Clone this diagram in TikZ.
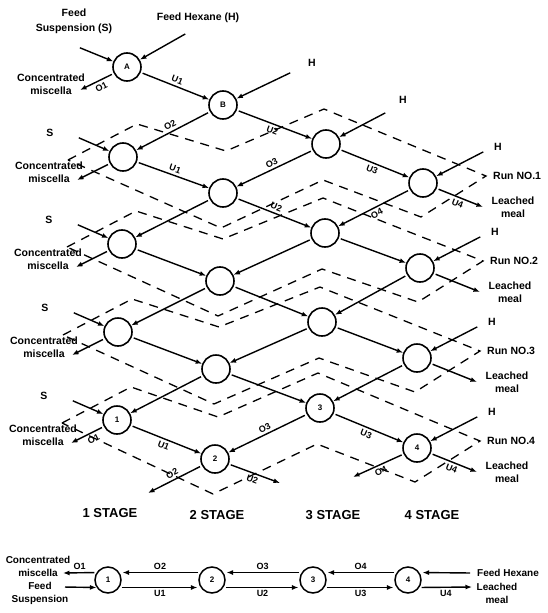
\documentclass[tikz,border=0pt]{standalone}
\usepackage{fontspec}
\setmainfont{Liberation Sans}
\usetikzlibrary{arrows.meta,calc}
\begin{document}
\begin{tikzpicture}[x=1pt,y=-1pt,
  st/.style={circle,draw,line width=1.6pt,minimum size=28pt,inner sep=0pt,font=\bfseries\fontsize{8}{8}\selectfont},
  sb/.style={circle,draw,line width=1.5pt,minimum size=26pt,inner sep=0pt,font=\bfseries\fontsize{8}{8}\selectfont},
  fl/.style={line width=1.4pt,-{Latex[length=6.5pt,width=5pt]},shorten <=2pt},
  bd/.style={line width=1.3pt,dash pattern=on 9pt off 7pt,line join=miter},
  lb/.style={font=\bfseries\fontsize{9}{9}\selectfont,sloped,inner sep=2.5pt},
  tx/.style={font=\bfseries\fontsize{10.5}{13}\selectfont,inner sep=0pt,align=center},
  sg/.style={font=\bfseries\fontsize{13}{13}\selectfont,inner sep=0pt},
  hb/.style={font=\bfseries\fontsize{10}{13}\selectfont,inner sep=0pt,align=center},
  bl/.style={font=\bfseries\fontsize{9}{9}\selectfont,inner sep=2pt}
]
\useasboundingbox (0,0) rectangle (547,613);

% ---------- stage nodes ----------
\node[st] (A) at (127,67) {A};
\node[st] (B) at (223,105) {B};
\node[st] (a1) at (123,157) {};
\node[st] (b1) at (223,193) {};
\node[st] (c1) at (326,144) {};
\node[st] (d1) at (423,183) {};
\node[st] (a2) at (122,244) {};
\node[st] (b2) at (220,281) {};
\node[st] (c2) at (325,233) {};
\node[st] (d2) at (420,268) {};
\node[st] (a3) at (118,332) {};
\node[st] (b3) at (216,369) {};
\node[st] (c3) at (322,322) {};
\node[st] (d3) at (417,358) {};
\node[st] (a4) at (117,420) {1};
\node[st] (b4) at (215,459) {2};
\node[st] (c4) at (320,408) {3};
\node[st] (d4) at (417,448) {4};

% ---------- dashed run outlines ----------
\foreach \r in {1,...,4}{
  \draw[bd] ($(a\r)+(-55,3)$) -- ($(a\r)+(14,-33)$) -- ($(b\r)+(3,-42)$) -- ($(c\r)+(-2,-35)$)
    -- ($(d\r)+(63,-7)$) -- ($(d\r)+(-2,34)$) -- ($(c\r)+(-3,36)$) -- ($(b\r)+(-2,35)$) -- cycle;
}

% ---------- top feed stage ----------
\node[tx] (fs) at (74,21) {Feed\\[2pt]Suspension (S)};
\node[tx] (fh) at (198,18) {Feed Hexane (H)};
\coordinate (fss) at (78,47);
\coordinate (fhs) at (187,33);
\draw[fl] (fss) -- (A);
\draw[fl] (fhs) -- (A);
\node[tx] (cmA) at (51,84) {Concentrated\\miscella};
\coordinate (cmAt) at (80,90);
\draw[fl] (A) -- node[lb,below,pos=0.45]{O1} (cmAt);
\draw[fl] (A) -- node[lb,above]{U1} (B);
\node[tx] (hB) at (312,63) {H};
\coordinate (hBs) at (292,72);
\draw[fl] (hBs) -- (B);
\draw[fl] (B) -- node[lb,above]{O2} (a1);
\draw[fl] (B) -- node[lb,below]{U2} (c1);
\node[tx] (hc1) at (403,100) {H};
\coordinate (hc1s) at (387,112);
\draw[fl] (hc1s) -- (c1);

% ---------- per-run feeds, products and labels ----------
\foreach \r in {1,...,4}{
  \node[tx,anchor=west] (rn\r) at ($(d\r)+(70,-7)$) {Run NO.\r};
  \node[tx] (lm\r) at ($(d\r)+(90,24)$) {Leached\\meal};
  \coordinate (lt\r) at ($(d\r)+(60,24)$);
  \node[tx] (hd\r) at ($(d\r)+(75,-36)$) {H};
  \coordinate (hs\r) at ($(d\r)+(62,-32)$);
  \draw[fl] (hs\r) -- (d\r);
  \node[tx] (sl\r) at ($(a\r)+(-73,-24)$) {S};
  \coordinate (ss\r) at ($(a\r)+(-46,-20)$);
  \draw[fl] (ss\r) -- (a\r);
  \node[tx] (cm\r) at ($(a\r)+(-74,15)$) {Concentrated\\miscella};
  \coordinate (ct\r) at ($(a\r)+(-46,23)$);
}

% run 1
\draw[fl] (a1) -- (ct1);
\draw[fl] (a1) -- node[lb,above]{U1} (b1);
\draw[fl] (c1) -- node[lb,above]{O3} (b1);
\draw[fl] (c1) -- node[lb,below]{U3} (d1);
\draw[fl] (d1) -- node[lb,below]{U4} (lt1);
% runs 2 and 3
\foreach \r in {2,3}{
  \draw[fl] (a\r) -- (ct\r);
  \draw[fl] (a\r) -- (b\r);
  \draw[fl] (c\r) -- (b\r);
  \draw[fl] (c\r) -- (d\r);
  \draw[fl] (d\r) -- (lt\r);
}
% run 4
\draw[fl] (a4) -- node[lb,below,pos=0.4]{O1} (ct4);
\draw[fl] (a4) -- node[lb,below]{U1} (b4);
\draw[fl] (c4) -- node[lb,above]{O3} (b4);
\draw[fl] (c4) -- node[lb,below]{U3} (d4);
\draw[fl] (d4) -- node[lb,below]{U4} (lt4);
\coordinate (o2e) at (148,493);
\coordinate (u2e) at (280,483);
\coordinate (o4e) at (353,477);
\draw[fl] (b4) -- node[lb,above]{O2} (o2e);
\draw[fl] (b4) -- node[lb,below]{U2} (u2e);
\draw[fl] (d4) -- node[lb,below]{O4} (o4e);

% links between runs
\draw[fl] (b1) -- (a2);
\draw[fl] (b1) -- node[lb,above]{U2} (c2);
\draw[fl] (d1) -- node[lb,below]{O4} (c2);
\draw[fl] (b2) -- (a3);
\draw[fl] (b2) -- (c3);
\draw[fl] (d2) -- (c3);
\draw[fl] (b3) -- (a4);
\draw[fl] (b3) -- (c4);
\draw[fl] (d3) -- (c4);

% ---------- stage captions ----------
\node[sg] (sg1) at (110,513) {1 STAGE};
\node[sg] (sg2) at (217,515) {2 STAGE};
\node[sg] (sg3) at (333,515) {3 STAGE};
\node[sg] (sg4) at (432,515) {4 STAGE};

% ---------- bottom equivalent countercurrent scheme ----------
\node[sb] (n1) at (108,580) {1};
\node[sb] (n2) at (212,580) {2};
\node[sb] (n3) at (313,580) {3};
\node[sb] (n4) at (408,580) {4};
\node[hb] (bcm) at (38,566.5) {Concentrated\\miscella};
\node[hb] (bfs) at (40,593.5) {Feed\\Suspension};
\coordinate (bcmt) at (63,573);
\coordinate (bfss) at (63,587);
\draw[fl] (n1.147) -- node[bl,above]{O1} (bcmt);
\draw[fl] (bfss) -- (n1.213);
\draw[fl,shorten >=3pt] (n2.147) -- node[bl,above]{O2} (n1.33);
\draw[fl,shorten >=3pt] (n1.-33) -- node[bl,below]{U1} (n2.213);
\draw[fl,shorten >=3pt] (n3.147) -- node[bl,above]{O3} (n2.33);
\draw[fl,shorten >=3pt] (n2.-33) -- node[bl,below]{U2} (n3.213);
\draw[fl,shorten >=3pt] (n4.147) -- node[bl,above]{O4} (n3.33);
\draw[fl,shorten >=3pt] (n3.-33) -- node[bl,below]{U3} (n4.213);
\node[hb,anchor=west] (bfh) at (477,573) {Feed Hexane};
\coordinate (bfhs) at (472,573);
\draw[fl,shorten >=3pt] (bfhs) -- (n4.33);
\node[hb] (blm) at (497,593) {Leached\\meal};
\coordinate (blmt) at (472,587);
\draw[fl] (n4.-33) -- node[bl,below]{U4} (blmt);
\end{tikzpicture}
\end{document}
